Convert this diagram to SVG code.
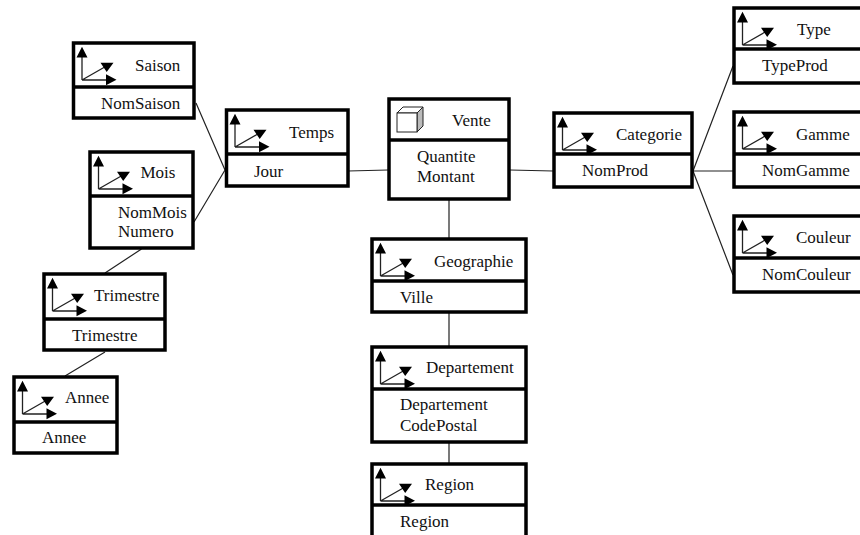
<svg xmlns="http://www.w3.org/2000/svg" width="860" height="535" viewBox="0 0 860 535">
<style>
text{font-family:"Liberation Serif","Times New Roman",serif;font-size:17px;fill:#111}
.box{fill:#fff;stroke:#000;stroke-width:3.5}
.div{stroke:#000;stroke-width:3.5;fill:none}
.c{stroke:#222;stroke-width:1.2;fill:none}
.ax{stroke:#222;stroke-width:1.3;fill:none}
</style>
<defs>
<g id="axes">
<path class="ax" d="M8.500 37V14M8.500 37H33M8.500 37L33 23"/>
<path d="M3 14.500L8.500 3.700L14 14.500ZM32.500 31.200L43 36.800L32.500 42.300ZM27 19.700H40L33.200 29Z" fill="#000"/>
</g>
</defs>
<rect width="860" height="535" fill="#fff"/>
<g id="connectors">
<path class="c" d="M196 103L225 170M194 222L225 170M141.500 249L105 273M105 352L65 376M348 171L388 170M510 170L553 171M449 200V238M449 313V346M449 443V463M693 171L733 66M693 171H733M693 171L733 275"/>
</g>
<g id="saison"><rect class="box" x="73.500" y="43" width="120.500" height="75"/><path class="div" d="M73.500 87H194"/><use href="#axes" x="73.500" y="43"/><text x="135" y="71">Saison</text><text x="101" y="109">NomSaison</text></g>
<g id="temps"><rect class="box" x="226.500" y="110" width="121.500" height="76"/><path class="div" d="M226.500 154H348"/><use href="#axes" x="226.500" y="110"/><text x="289" y="138">Temps</text><text x="254" y="177">Jour</text></g>
<g id="mois"><rect class="box" x="90" y="152" width="103" height="96"/><path class="div" d="M90 196H193"/><use href="#axes" x="90" y="152"/><text x="140.500" y="178">Mois</text><text x="118" y="218">NomMois</text><text x="118" y="237">Numero</text></g>
<g id="trimestre"><rect class="box" x="44" y="274" width="121" height="76"/><path class="div" d="M44 319H165"/><use href="#axes" x="44" y="274"/><text x="94" y="301">Trimestre</text><text x="72" y="341">Trimestre</text></g>
<g id="annee"><rect class="box" x="14" y="377" width="103" height="76"/><path class="div" d="M14 422H117"/><use href="#axes" x="14" y="377"/><text x="65" y="403">Annee</text><text x="42" y="443">Annee</text></g>
<g id="vente"><rect class="box" x="389" y="99" width="120" height="100"/><path class="div" d="M389 140H509"/>
<path d="M417 113L423 107V126L417 132Z" fill="#bbb" stroke="#222" stroke-width="1"/><path d="M397 113L403 107H423L417 113Z" fill="#fff" stroke="#222" stroke-width="1"/><rect x="397" y="113" width="20" height="19" fill="#fff" stroke="#222" stroke-width="1"/>
<text x="452" y="126">Vente</text><text x="417" y="162">Quantite</text><text x="417" y="182">Montant</text></g>
<g id="categorie"><rect class="box" x="554" y="113" width="138" height="74"/><path class="div" d="M554 154H692"/><use href="#axes" x="554" y="113"/><text x="616" y="140">Categorie</text><text x="582" y="176">NomProd</text></g>
<g id="geographie"><rect class="box" x="372" y="239" width="154" height="73"/><path class="div" d="M372 281H526"/><use href="#axes" x="372" y="239"/><text x="434" y="267">Geographie</text><text x="400" y="303">Ville</text></g>
<g id="departement"><rect class="box" x="372" y="347" width="154" height="95"/><path class="div" d="M372 389H526"/><use href="#axes" x="372" y="347"/><text x="426" y="373">Departement</text><text x="400" y="410">Departement</text><text x="400" y="431">CodePostal</text></g>
<g id="region"><rect class="box" x="372" y="464" width="154" height="74"/><path class="div" d="M372 505H526"/><use href="#axes" x="372" y="464"/><text x="425" y="490">Region</text><text x="400" y="527">Region</text></g>
<g id="type"><rect class="box" x="734" y="8" width="130" height="75"/><path class="div" d="M734 49H864"/><use href="#axes" x="734" y="8"/><text x="797" y="35">Type</text><text x="762" y="71">TypeProd</text></g>
<g id="gamme"><rect class="box" x="734" y="112" width="130" height="75"/><path class="div" d="M734 154H864"/><use href="#axes" x="734" y="112"/><text x="796" y="140">Gamme</text><text x="762" y="176">NomGamme</text></g>
<g id="couleur"><rect class="box" x="734" y="216" width="130" height="76"/><path class="div" d="M734 258H864"/><use href="#axes" x="734" y="216"/><text x="796" y="243">Couleur</text><text x="762" y="280">NomCouleur</text></g>
</svg>
